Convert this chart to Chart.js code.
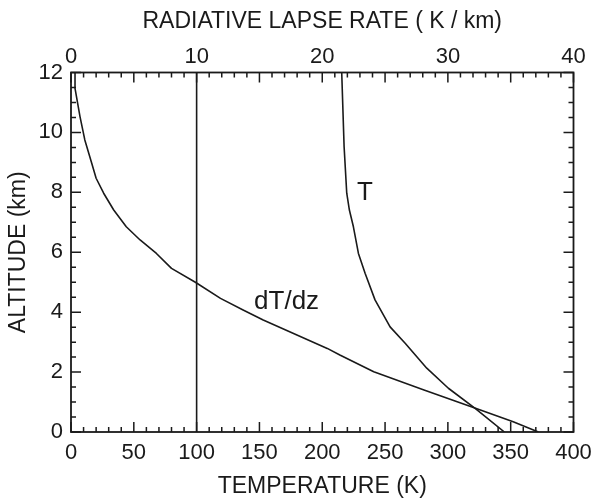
<!DOCTYPE html>
<html><head><meta charset="utf-8">
<script src="https://cdn.jsdelivr.net/npm/chart.js@4.4.1/dist/chart.umd.min.js"></script>
<style>html,body{margin:0;padding:0;background:#fff}#wrap{width:595px;height:501px}</style>
</head><body><div id="wrap"><canvas id="c" width="595" height="501"></canvas></div>
<script>
// ---- data ----
const altitudeT   = [0, 0.79, 1.46, 2.13, 2.96, 3.51, 4.41, 5.30, 5.96, 6.85, 7.41, 7.97, 9.52, 12];
const temperature = [345, 321.7, 300.4, 283.2, 266, 254, 242, 234.1, 228.8, 224.8, 221.6, 219.5, 217.4, 215.5];
const altitudeLapse = [0, 0.34, 0.79, 1.40, 2.01, 2.57, 2.79, 3.74, 4.07, 4.46, 5.0, 5.46, 5.96, 6.41, 6.85, 7.41, 7.97, 8.47, 8.97, 9.75, 10.52, 11.47, 12];
const lapseRate     = [37.2, 35.2, 32.2, 28.1, 24.1, 21.4, 20.4, 15.3, 13.7, 11.9, 9.9, 8.0, 6.8, 5.5, 4.4, 3.4, 2.6, 2.0, 1.65, 1.1, 0.72, 0.32, 0.32];
const referenceLapse = 10;          // K/km vertical line
const refAltitudes = [0, 12];
const tempTicks  = {min: 0, max: 400, step: 50, minor: 10};
const lapseTicks = {min: 0, max: 40, step: 10, minor: 1};
const altTicks   = {min: 0, max: 12, step: 2, minor: 0.5};
const curveLabels = [{text: 'T', x: 234, y: 8.0}, {text: 'dT/dz', x: 171.6, y: 4.35}];

const ink = '#1a1a1a';
const FONT = '"Liberation Sans", Arial, Helvetica, sans-serif';
const tickFont = {family: FONT, size: 22};
const titleFont = {family: FONT, size: 23};

const frameTicks = {
  id: 'frameTicks',
  afterDatasetsDraw(chart) {
    const {ctx, chartArea: a, scales} = chart;
    ctx.save();
    ctx.strokeStyle = ink; ctx.lineWidth = 1.5;
    ctx.beginPath();
    for (let v = tempTicks.min; v <= tempTicks.max + 1e-9; v += tempTicks.minor) {
      const px = scales.x.getPixelForValue(v);
      const L = (Math.round(v) % tempTicks.step === 0) ? 10 : 5;
      ctx.moveTo(px, a.bottom); ctx.lineTo(px, a.bottom - L);
    }
    for (let v = lapseTicks.min; v <= lapseTicks.max + 1e-9; v += lapseTicks.minor) {
      const px = scales.x2.getPixelForValue(v);
      const L = (Math.round(v) % 5 === 0) ? 10 : 5;
      ctx.moveTo(px, a.top); ctx.lineTo(px, a.top + L);
    }
    for (let v = altTicks.min; v <= altTicks.max + 1e-9; v += altTicks.minor) {
      const py = scales.y.getPixelForValue(v);
      const L = (Math.abs(v % altTicks.step) < 1e-6) ? 10 : 5;
      ctx.moveTo(a.left, py); ctx.lineTo(a.left + L, py);
      ctx.moveTo(a.right, py); ctx.lineTo(a.right - L, py);
    }
    ctx.stroke();
    ctx.lineWidth = 1.8;
    ctx.strokeRect(a.left, a.top, a.right - a.left, a.bottom - a.top);
    ctx.fillStyle = ink;
    ctx.font = '26px ' + FONT;
    ctx.textAlign = 'center'; ctx.textBaseline = 'middle';
    curveLabels.forEach(l => ctx.fillText(l.text, scales.x.getPixelForValue(l.x), scales.y.getPixelForValue(l.y)));
    ctx.restore();
  }
};

const lineStyle = {showLine: true, borderColor: ink, borderWidth: 1.6, pointRadius: 0, tension: 0, fill: false, borderJoinStyle: 'round'};
const noPad = s => { s.paddingLeft = 0; s.paddingRight = 0; s.paddingTop = 0; s.paddingBottom = 0; };

new Chart(document.getElementById('c'), {
  type: 'scatter',
  data: {
    datasets: [
      Object.assign({label: 'T', data: altitudeT.map((z, i) => ({x: temperature[i], y: z})), xAxisID: 'x', yAxisID: 'y'}, lineStyle),
      Object.assign({label: 'dT/dz', data: altitudeLapse.map((z, i) => ({x: lapseRate[i], y: z})), xAxisID: 'x2', yAxisID: 'y'}, lineStyle),
      Object.assign({label: 'ref', data: refAltitudes.map(z => ({x: referenceLapse, y: z})), xAxisID: 'x2', yAxisID: 'y'}, lineStyle)
    ]
  },
  options: {
    responsive: false, animation: false,
    layout: {padding: {left: 0, right: 21.5, top: 0, bottom: 0}},
    plugins: {legend: {display: false}, tooltip: {enabled: false}},
    scales: {
      x: {
        type: 'linear', position: 'bottom', min: tempTicks.min, max: tempTicks.max,
        ticks: {stepSize: tempTicks.step, font: tickFont, color: ink, padding: 8, maxRotation: 0, autoSkip: false},
        grid: {display: false, drawTicks: false}, border: {display: false},
        title: {display: true, text: 'TEMPERATURE (K)', font: titleFont, color: ink, padding: {top: 0, bottom: 0.5}},
        afterFit: s => { s.height = 69; noPad(s); }
      },
      x2: {
        type: 'linear', position: 'top', min: lapseTicks.min, max: lapseTicks.max,
        ticks: {stepSize: lapseTicks.step, font: tickFont, color: ink, padding: 2, maxRotation: 0, autoSkip: false},
        grid: {display: false, drawTicks: false}, border: {display: false},
        title: {display: true, text: 'RADIATIVE LAPSE RATE ( K / km)', font: titleFont, color: ink, padding: {top: 7.5, bottom: 0}},
        afterFit: s => { s.height = 72.5; noPad(s); }
      },
      y: {
        type: 'linear', position: 'left', min: altTicks.min, max: altTicks.max,
        ticks: {stepSize: altTicks.step, font: tickFont, color: ink, padding: 8},
        grid: {display: false, drawTicks: false}, border: {display: false},
        title: {display: true, text: 'ALTITUDE (km)', font: titleFont, color: ink, padding: {top: 4.5, bottom: 0}},
        afterFit: s => { s.width = 71; noPad(s); }
      }
    }
  },
  plugins: [frameTicks]
});
</script></body></html>
